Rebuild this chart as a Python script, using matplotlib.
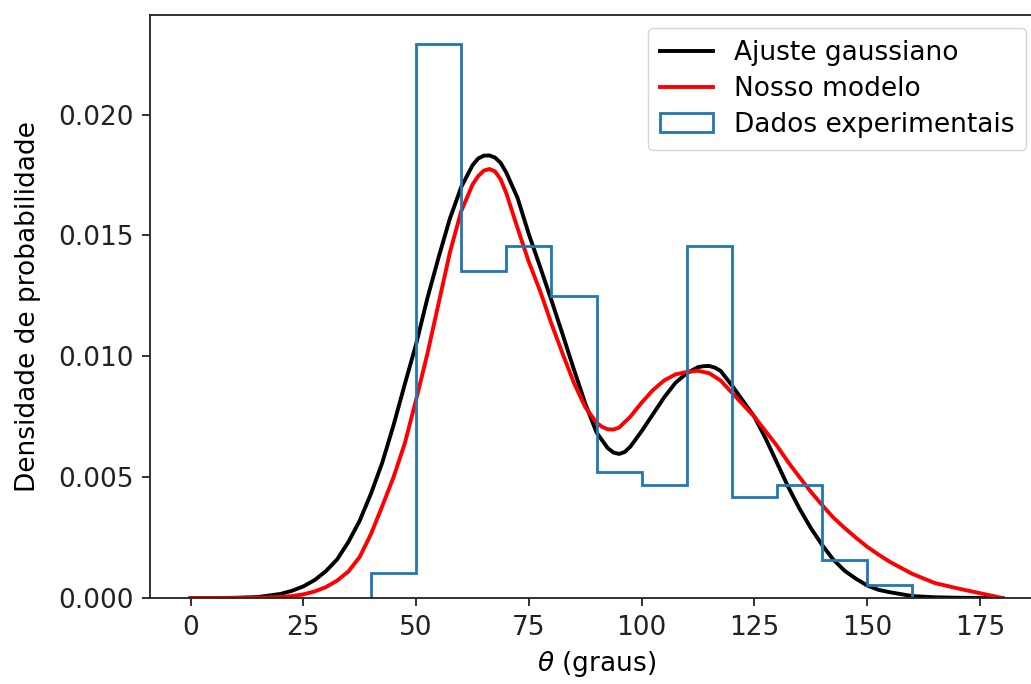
import matplotlib
matplotlib.use("Agg")
import matplotlib.pyplot as plt

# Histogram (experimental data): bin edges and density values
bin_edges = [40, 50, 60, 70, 80, 90, 100, 110, 120, 130, 140, 150, 160]
hist_density = [0.00104, 0.02292, 0.01354, 0.01458, 0.01250, 0.00521,
                0.00469, 0.01458, 0.00417, 0.00469, 0.00156, 0.00052]

# Gaussian fit curve
theta_black = [0, 5, 10, 15, 20, 22.5, 25, 27.5, 30, 32.5, 35, 37.5, 40, 42.5, 45,
               47.5, 50, 52.5, 55, 57.5, 60, 62.5, 63.75, 65, 66.25, 67.5, 68.75,
               70, 72.5, 75, 77.5, 80, 82.5, 85, 87.5, 90, 92.5, 93.75, 95, 96.25,
               97.5, 100, 102.5, 105, 107.5, 110, 112.5, 113.75, 115, 116.25,
               117.5, 120, 122.5, 125, 127.5, 130, 132.5, 135, 137.5, 140, 142.5,
               145, 147.5, 150, 152.5, 155, 160, 165, 170, 175, 180]
dens_black = [0.0, 0.0, 0.00001, 0.00004, 0.00017, 0.00030, 0.00048, 0.00074,
              0.00111, 0.00160, 0.00232, 0.00320, 0.00432, 0.00560, 0.00715,
              0.00885, 0.01050, 0.01240, 0.01410, 0.01570, 0.01700, 0.01790,
              0.01818, 0.01830, 0.01831, 0.01822, 0.01800, 0.01760, 0.01655,
              0.01505, 0.01370, 0.01232, 0.01090, 0.00945, 0.00805, 0.00685,
              0.00620, 0.00602, 0.00596, 0.00604, 0.00626, 0.00690, 0.00760,
              0.00830, 0.00890, 0.00930, 0.00955, 0.00959, 0.00960, 0.00953,
              0.00940, 0.00880, 0.00815, 0.00750, 0.00660, 0.00560, 0.00460,
              0.00370, 0.00290, 0.00220, 0.00159, 0.00113, 0.00080, 0.00052,
              0.00034, 0.00024, 0.00008, 0.00003, 0.00001, 0.0, 0.0]

# "Nosso modelo" curve
theta_red = [0, 5, 10, 15, 20, 22.5, 25, 27.5, 30, 32.5, 35, 37.5, 40, 42.5, 45,
             47.5, 50, 52.5, 55, 57.5, 60, 62.5, 63.75, 65, 66.25, 67.5, 68.75,
             70, 72.5, 75, 77.5, 80, 82.5, 85, 87.5, 90, 91.25, 92.5, 93.75, 95,
             97.5, 100, 102.5, 105, 107.5, 110, 112.5, 115, 117.5, 120, 122.5,
             125, 127.5, 130, 132.5, 135, 137.5, 140, 142.5, 145, 147.5, 150,
             152.5, 155, 160, 165, 170, 175, 180]
dens_red = [0.0, 0.0, 0.0, 0.00001, 0.00004, 0.00008, 0.00015, 0.00027,
            0.00045, 0.00072, 0.00110, 0.00170, 0.00265, 0.00380, 0.00500,
            0.00640, 0.00820, 0.01010, 0.01220, 0.01430, 0.01600, 0.01710,
            0.01745, 0.01768, 0.01775, 0.01765, 0.01732, 0.01675, 0.01530,
            0.01390, 0.01270, 0.01135, 0.01010, 0.00890, 0.00790, 0.00725,
            0.00708, 0.00698, 0.00697, 0.00705, 0.00750, 0.00808, 0.00860,
            0.00900, 0.00925, 0.00935, 0.00940, 0.00930, 0.00900, 0.00850,
            0.00800, 0.00750, 0.00690, 0.00630, 0.00562, 0.00500, 0.00440,
            0.00385, 0.00333, 0.00290, 0.00250, 0.00212, 0.00180, 0.00150,
            0.00100, 0.00062, 0.00040, 0.00020, 0.0]

x_ticks = [0, 25, 50, 75, 100, 125, 150, 175]
y_ticks = [0.000, 0.005, 0.010, 0.015, 0.020]

W, H = 1031, 684
fig = plt.figure(figsize=(W / 100, H / 100), dpi=100)
ax = fig.add_axes([150 / W, (H - 598) / H, 893 / W, 583 / H])

fs = 19
ax.plot(theta_black, dens_black, color="black", lw=2.8,
        solid_joinstyle="round", label="Ajuste gaussiano")
ax.plot(theta_red, dens_red, color="red", lw=2.8,
        solid_joinstyle="round", label="Nosso modelo")
ax.hist(bin_edges[:-1], bins=bin_edges, weights=hist_density, histtype="step",
        color="#1f77b4", lw=2.0, label="Dados experimentais")

ax.set_xlim(-9, 189)
ax.set_ylim(0, 0.02412)
ax.set_xticks(x_ticks)
ax.set_yticks(y_ticks)
ax.set_yticklabels([f"{v:.3f}" for v in y_ticks])
ax.tick_params(labelsize=fs, length=6, width=1.3, pad=6, colors="#222222")
for s in ax.spines.values():
    s.set_linewidth(1.3)
    s.set_color("#222222")

ax.set_xlabel(r"$\theta$ (graus)", fontsize=fs, labelpad=6)
ax.set_ylabel("Densidade de probabilidade", fontsize=fs, labelpad=12)

leg = ax.legend(loc="upper right", bbox_to_anchor=(1026 / W, 1 - 28 / H),
                bbox_transform=fig.transFigure, borderaxespad=0, fontsize=fs,
                handlelength=2.0, handletextpad=0.8, labelspacing=0.38,
                borderpad=0.45, framealpha=0.8, edgecolor="#cccccc")

fig.savefig("out.png", dpi=100)
